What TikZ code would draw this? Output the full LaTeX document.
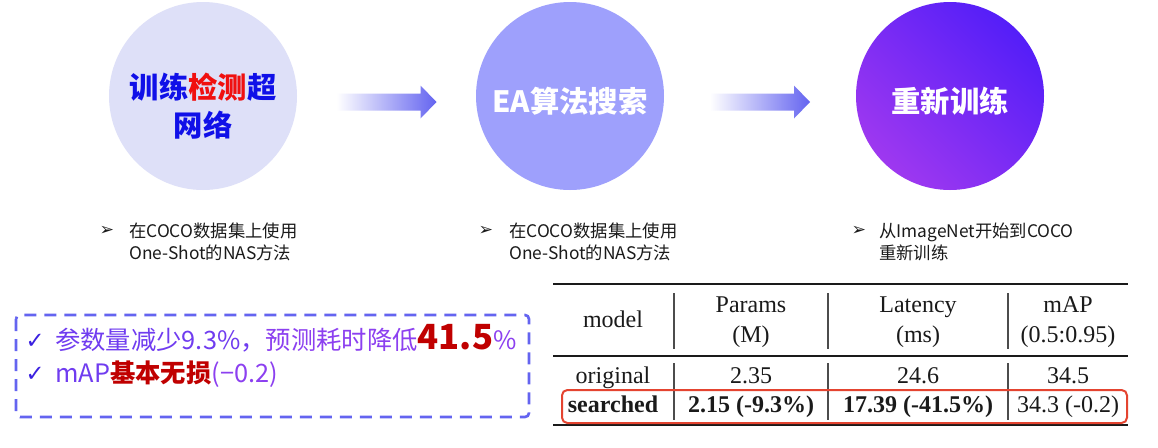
\documentclass[tikz,border=0pt]{standalone}
\usepackage{fontspec}
\setmainfont{Liberation Serif}
\newfontfamily\cjk{Noto Sans CJK SC}
\newfontfamily\dingfont{DejaVu Sans}
\usepackage{xcolor}
\usepackage{tikz}
\usetikzlibrary{positioning,calc}
\definecolor{hubpale}   {RGB}{222,224,248}
\definecolor{hubmid}    {RGB}{158,160,252}
\definecolor{hubdeepA}  {RGB}{84,30,248}
\definecolor{hubdeepB}  {RGB}{158,56,240}
\definecolor{titleblue} {RGB}{16,16,232}
\definecolor{titlered}  {RGB}{240,16,16}
\definecolor{arrowblue} {RGB}{100,100,240}
\definecolor{dashblue}  {RGB}{100,100,240}
\definecolor{tickviolet}{RGB}{58,32,224}
\definecolor{textviolet}{RGB}{112,60,240}
\definecolor{textpurple}{RGB}{140,64,240}
\definecolor{gainred}   {RGB}{192,0,0}
\definecolor{boxred}    {RGB}{228,68,48}
\definecolor{inkgray}   {RGB}{26,26,26}

\begin{document}
\begin{tikzpicture}[
  x=0.75pt, y=-0.75pt,
  hub/.style={circle, minimum size=141pt, inner sep=0pt},
  hubtext/.style={font=\cjk\bfseries\fontsize{22}{28}\selectfont,
    align=center, inner sep=0pt},
  fatarrow/.style={left color=white, right color=arrowblue},
  bullet/.style={font=\dingfont\bfseries\fontsize{13}{15}\selectfont,
    text=inkgray, inner sep=0pt},
  note/.style={font=\cjk\fontsize{13}{16.5}\selectfont, text=inkgray,
    align=left, anchor=west, inner sep=0pt},
  dashbox/.style={draw=dashblue, line width=2pt, dash pattern=on 9pt off 6pt,
    rounded corners=3pt},
  tick/.style={font=\dingfont\bfseries\fontsize{17}{20}\selectfont, text=tickviolet,
    anchor=base, inner sep=0pt},
  gain/.style={font=\cjk\fontsize{19}{24}\selectfont, anchor=base west,
    inner sep=0pt},
  cell/.style={font=\fontsize{18}{22.5}\selectfont, text=inkgray,
    align=center, anchor=base, inner sep=0pt},
  boldcell/.style={cell, font=\bfseries\fontsize{18}{22.5}\selectfont},
  rule/.style={line width=1.5pt, inkgray},
  colsep/.style={line width=0.8pt, black!70},
  hlbox/.style={draw=boxred, line width=1.5pt, rounded corners=4pt},
]
\useasboundingbox[fill=white] (0,0) rectangle (1158,447);

% Stage circles
\node[hub, fill=hubpale] (c1) at (203,96) {};
\node[hub, fill=hubmid]  (c2) at (570,96) {};
\node[hub, top color=hubdeepA, bottom color=hubdeepB, shading angle=-45]
  (c3) at (950,96) {};

\node[hubtext, text=titleblue] (t1) at ($(c1)+(0,10)$)
  {训练{\color{titlered}检测}超\\网络};
\node[hubtext, text=white] (t2) at ($(c2)+(0,5)$) {EA算法搜索};
\node[hubtext, text=white] (t3) at ($(c3)+(0,5)$) {重新训练};

% Arrows between stages
\foreach \a/\b in {c1/c2, c2/c3} {
  \coordinate (m) at ($(\a.east)!0.5!(\b.west)+(0,6)$);
  \shade[fatarrow] ($(m)+(-50,-8.5)$) -- ($(m)+(34,-8.5)$)
    -- ($(m)+(34,-16.5)$) -- ($(m)+(50,0)$) -- ($(m)+(34,16.5)$)
    -- ($(m)+(34,8.5)$) -- ($(m)+(-50,8.5)$) -- cycle;
}

% Notes under the circles
\node[bullet] (b1) at (107,231) {➢};
\node[note]   (n1) at (129,242) {在COCO数据集上使用\\One-Shot的NAS方法};
\node[bullet] (b2) at (486,231) {➢};
\node[note]   (n2) at (509,242) {在COCO数据集上使用\\One-Shot的NAS方法};
\node[bullet] (b3) at (859,231) {➢};
\node[note]   (n3) at (879,242) {从ImageNet开始到COCO\\重新训练};

% Summary box
\draw[dashbox] (16,315) rectangle (529,417);
\node[tick] (k1) at (35,348) {✓};
\node[gain, text=textviolet] (g1) at (55,349)
  {参数量减少9.3\%，{\color{textpurple}预测耗时降低}{\color{gainred}\bfseries\fontsize{26}{30}\selectfont 41.5}{\color{textpurple}\%}};
\node[tick] (k2) at (35,381) {✓};
\node[gain, text=textviolet] (g2) at (55,382)
  {mAP{\color{gainred}\bfseries 基本无损}{\color{textpurple}(−0.2)}};

% Result table
\draw[rule] (553,284) -- (1128,284);
\draw[rule] (553,356) -- (1128,356);
\draw[rule] (553,425) -- (1128,425);
\foreach \x in {674,828,1008} {
  \draw[colsep] (\x,293) -- (\x,349);
  \draw[colsep] (\x,363) -- (\x,420);
}

\node[cell] (hmodel)   at (613,327) {model};
\node[cell] (hparams)  at (751,342) {Params\\(M)};
\node[cell] (hlatency) at (918,342) {Latency\\(ms)};
\node[cell] (hmap)     at (1068,342) {mAP\\(0.5:0.95)};

\node[cell] (orig)     at (613,383) {original};
\node[cell] (oparams)  at (751,383) {2.35};
\node[cell] (olatency) at (918,383) {24.6};
\node[cell] (omap)     at (1068,383) {34.5};

\node[boldcell] (srch)     at (613,412) {searched};
\node[boldcell] (sparams)  at (751,412) {2.15 (-9.3\%)};
\node[boldcell] (slatency) at (918,412) {17.39 (-41.5\%)};
\node[cell]     (smap)     at (1068,412) {34.3 (-0.2)};

\draw[hlbox] (562,390) rectangle (1127,423);

\end{tikzpicture}
\end{document}
